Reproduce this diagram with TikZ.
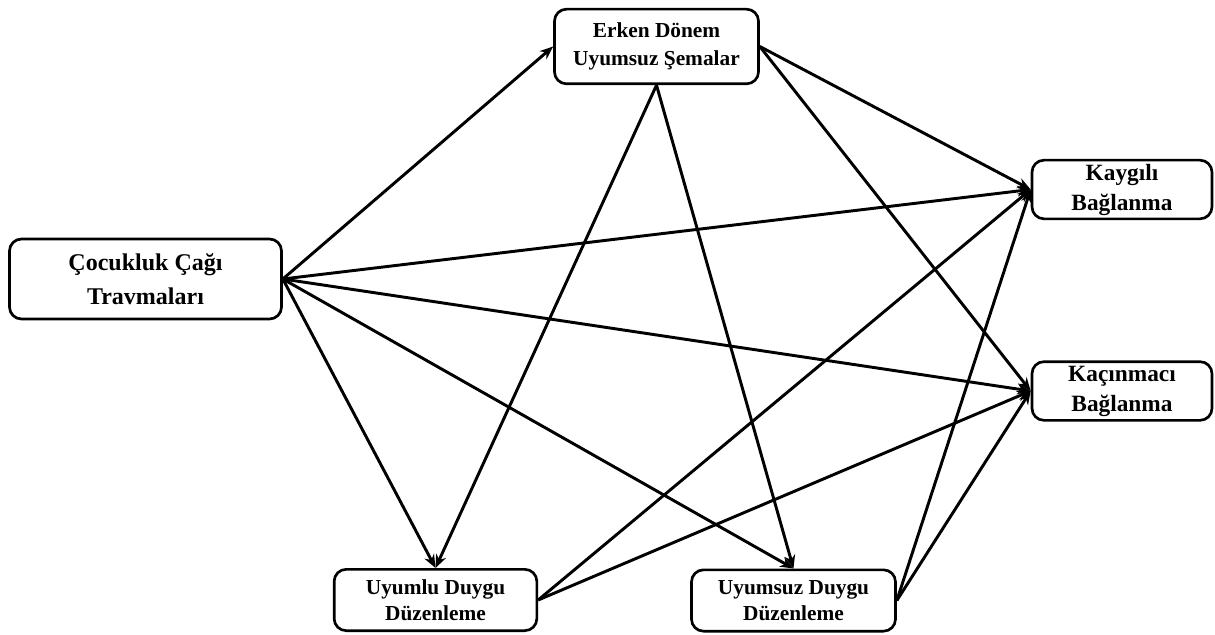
\documentclass[tikz,border=0pt]{standalone}
\usepackage{fontspec}
\setmainfont{Liberation Serif}
\usetikzlibrary{arrows.meta}

\tikzset{every picture/.style={line width=0.75pt}}
\tikzset{
  kutu/.style={draw, rounded corners=9pt, line width=2pt, align=center, inner sep=0pt},
  ok/.style={-{Stealth[length=10pt,width=8pt]}, line width=2.2pt}
}

\begin{document}
\begin{tikzpicture}[x=0.75pt,y=0.75pt,yscale=-1,xscale=1]
    \useasboundingbox (0,0) rectangle (1215,635);

    % Text Node
    \node (cct) at (145.5,279) [kutu, minimum width=204pt, minimum height=60pt, font=\fontsize{18}{26}\selectfont\bfseries] {Çocukluk Çağı\\ Travmaları};
    % Text Node
    \node (eds) at (656.5,46.5) [kutu, minimum width=153pt, minimum height=56pt, font=\fontsize{16}{20.5}\selectfont\bfseries] {Erken Dönem\\ Uyumsuz Şemalar};
    % Text Node
    \node (kb) at (1122,189.5) [kutu, minimum width=135pt, minimum height=44pt, font=\fontsize{17.5}{22.5}\selectfont\bfseries] {Kaygılı\\ Bağlanma};
    % Text Node
    \node (kcb) at (1122,391) [kutu, minimum width=135pt, minimum height=44pt, font=\fontsize{17.5}{22.5}\selectfont\bfseries] {Kaçınmacı\\ Bağlanma};
    % Text Node
    \node (udd) at (435.5,600) [kutu, minimum width=152pt, minimum height=46pt, font=\fontsize{16}{19.5}\selectfont\bfseries] {Uyumlu Duygu\\ Düzenleme};
    % Text Node
    \node (usdd) at (793.5,600.5) [kutu, minimum width=153pt, minimum height=46pt, font=\fontsize{16}{19.5}\selectfont\bfseries] {Uyumsuz Duygu\\ Düzenleme};

    %Straight Lines
    \draw [ok] (cct.east) -- (eds.west);
    \draw [ok] (cct.east) -- (kb.west);
    \draw [ok] (cct.east) -- (kcb.west);
    \draw [ok] (cct.east) -- (udd.north);
    \draw [ok] (cct.east) -- (usdd.north);
    %Straight Lines
    \draw [ok] (eds.east) -- (kb.west);
    \draw [ok] (eds.east) -- (kcb.west);
    \draw [ok] (eds.south) -- (udd.north);
    \draw [ok] (eds.south) -- (usdd.north);
    %Straight Lines
    \draw [ok] (udd.east) -- (kb.west);
    \draw [ok] (udd.east) -- (kcb.west);
    \draw [ok] (usdd.east) -- (kb.west);
    \draw [ok] (usdd.east) -- (kcb.west);

\end{tikzpicture}
\end{document}
